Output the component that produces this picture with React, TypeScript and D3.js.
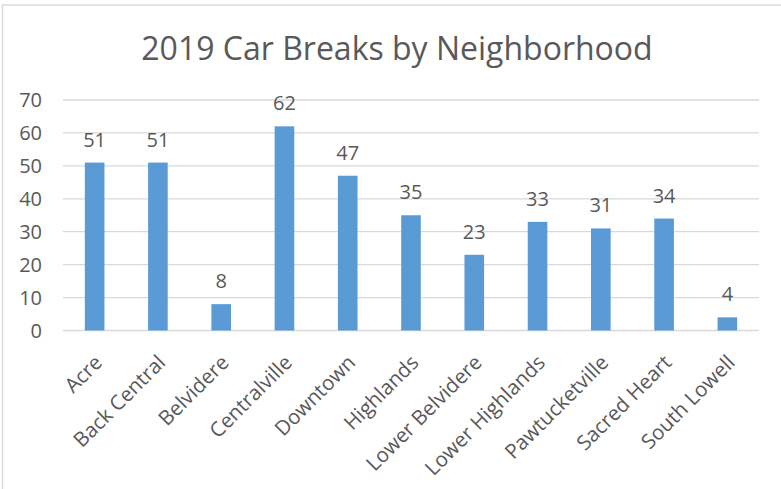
import React from "react";
import * as d3 from "d3";

const title = "2019 Car Breaks by Neighborhood";
const categories = [
  "Acre",
  "Back Central",
  "Belvidere",
  "Centralville",
  "Downtown",
  "Highlands",
  "Lower Belvidere",
  "Lower Highlands",
  "Pawtucketville",
  "Sacred Heart",
  "South Lowell",
];
const values = [51, 51, 8, 62, 47, 35, 23, 33, 31, 34, 4];
const yTicks = [0, 10, 20, 30, 40, 50, 60, 70];

const W = 781;
const H = 489;
const FONT = "'Open Sans', 'Noto Sans', sans-serif";
const TEXT = "#595959";
const BAR = "#5B9BD5";
const GRID = "#D9D9D9";

export default function App() {
  const x = d3.scaleBand<string>().domain(categories).range([63, 759]).paddingInner(0.69).paddingOuter(0.345);
  const y = d3.scaleLinear().domain([0, 70]).range([330.5, 100]);

  return (
    <div style={{ position: "fixed", left: 0, top: 0 }}>
      <svg width={W} height={H} style={{ display: "block", background: "#fff" }}>
        <rect x={0} y={0} width={W} height={H} fill="#fff" />
        <line x1={2.5} x2={2.5} y1={5} y2={H} stroke="#D9D9D9" strokeWidth={1.5} />
        <line x1={2} x2={W} y1={5} y2={5} stroke="#D9D9D9" strokeWidth={1.5} />
        <text x={397} y={60} textAnchor="middle" fontFamily={FONT} fontSize={32} fill={TEXT}>
          {title}
        </text>
        {yTicks.map((t) => (
          <g key={t}>
            <line x1={63} x2={759} y1={y(t)} y2={y(t)} stroke={GRID} strokeWidth={1.3} />
            <text x={42} y={y(t)} dy="0.35em" textAnchor="end" fontFamily={FONT} fontSize={20} fill={TEXT}>
              {t}
            </text>
          </g>
        ))}
        {categories.map((c, i) => {
          const bx = x(c) as number;
          const bw = x.bandwidth();
          const cx = bx + bw / 2;
          return (
            <g key={c}>
              <rect x={bx} y={y(values[i])} width={bw} height={y(0) - y(values[i])} fill={BAR} />
              <text x={cx} y={y(values[i]) - 16} textAnchor="middle" fontFamily={FONT} fontSize={20} fill={TEXT}>
                {values[i]}
              </text>
              <text
                transform={`translate(${cx - 2},${353}) rotate(-45)`}
                textAnchor="end"
                dy="0.75em"
                fontFamily={FONT}
                fontSize={20.5}
                fill={TEXT}
              >
                {c}
              </text>
            </g>
          );
        })}
      </svg>
    </div>
  );
}
